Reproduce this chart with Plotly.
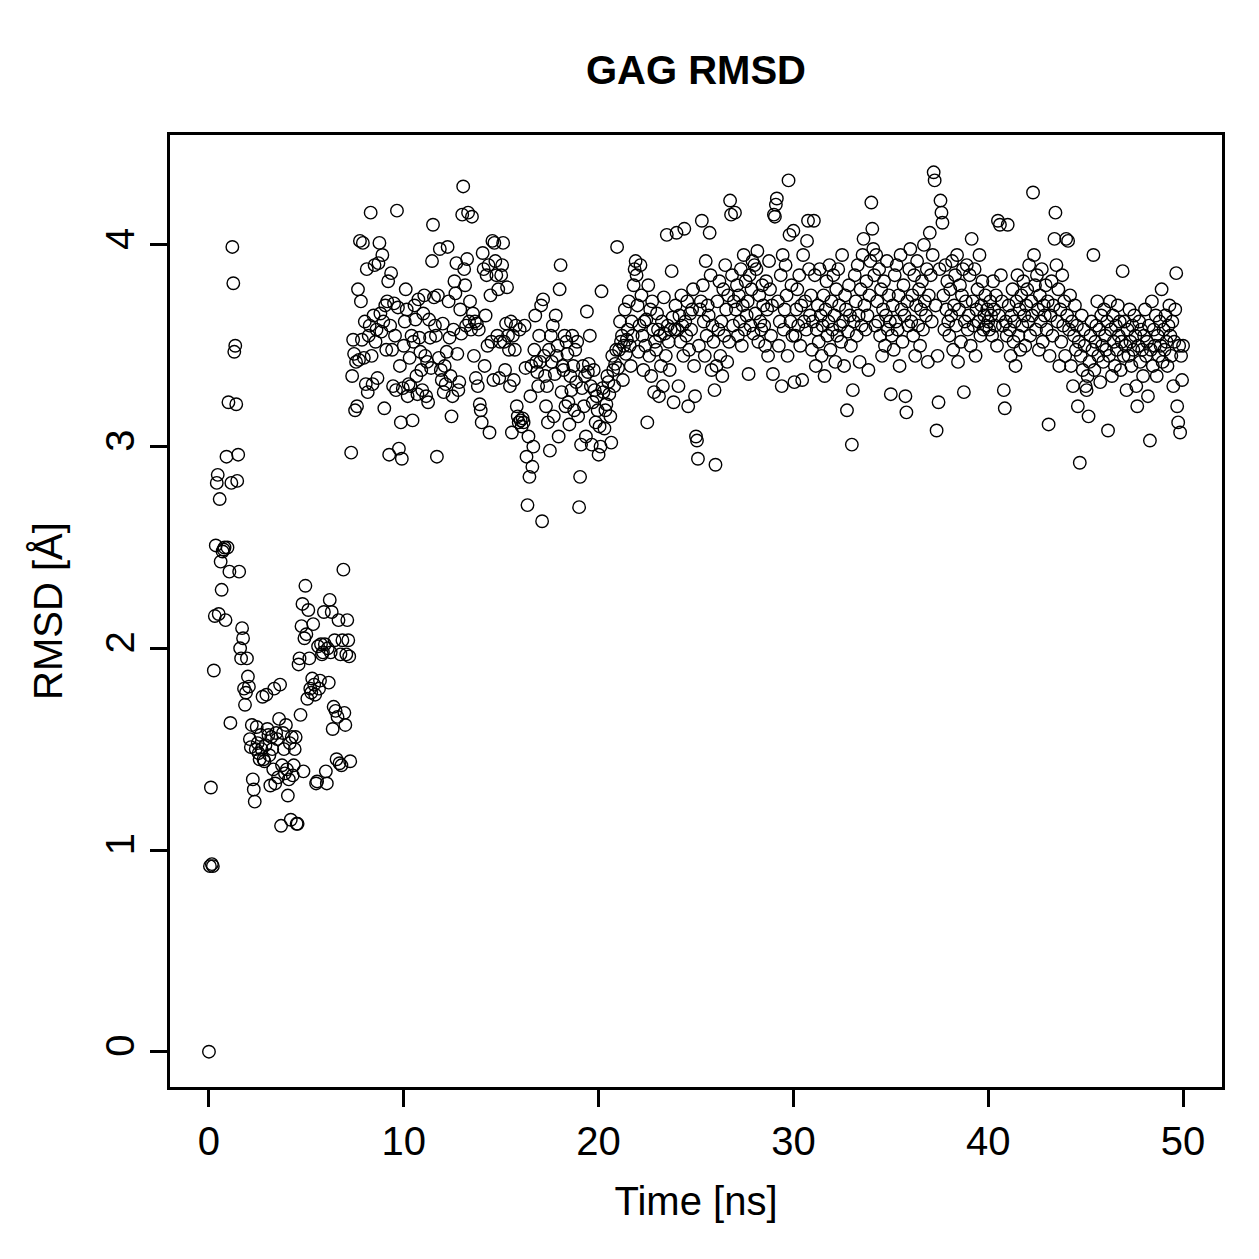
import numpy as np
import plotly.graph_objects as go

rmsd_0_10 = [
    0.00, 0.92, 1.31, 0.93, 0.92, 1.89, 2.16, 2.51, 2.82, 2.86, 2.17, 2.74, 2.43, 2.29, 2.48, 2.49, 2.50, 2.14, 2.95, 2.50,
    3.22, 2.38, 1.63, 2.82, 3.99, 3.81, 3.47, 3.50, 3.21, 2.83, 2.96, 2.38, 2.00, 1.95, 2.10, 2.05, 1.80, 1.72, 1.78, 1.95,
    1.86, 1.81, 1.55, 1.51, 1.62, 1.35, 1.30, 1.24, 1.50, 1.61, 1.53, 1.48, 1.45, 1.57, 1.50, 1.76, 1.45, 1.44, 1.52, 1.77,
    1.60, 1.57, 1.47, 1.32, 1.56, 1.50, 1.40, 1.80, 1.33, 1.58, 1.55, 1.36, 1.65, 1.82, 1.12, 1.42, 1.58, 1.50, 1.38, 1.62,
    1.40, 1.27, 1.35, 1.53, 1.15, 1.56, 1.37, 1.42, 1.50, 1.56, 1.13, 1.13, 1.92, 1.95, 1.67, 2.11, 2.22, 1.39, 2.05, 2.31,
    2.07, 1.75, 2.19, 1.95, 1.80, 1.78, 1.85, 2.12, 1.82, 1.77, 1.33, 1.34, 2.01, 1.80, 1.84, 2.02, 1.97, 1.98, 2.18, 2.02,
    1.39, 1.33, 2.00, 1.83, 2.24, 1.98, 2.18, 1.60, 1.71, 2.04, 1.69, 1.45, 1.66, 2.14, 1.43, 1.97, 1.42, 2.04, 2.39, 1.68,
    1.62, 1.97, 2.14, 2.04, 1.96, 1.44, 2.97, 3.35, 3.53, 3.46, 3.18, 3.42, 3.20, 3.78, 3.43, 4.02, 3.72, 3.53, 4.01, 3.44,
    3.62, 3.31, 3.88, 3.27, 3.55, 3.60, 4.16, 3.45, 3.31, 3.65, 3.90, 3.52, 3.58, 3.34, 3.91, 4.01, 3.66, 3.57, 3.95, 3.62,
    3.19, 3.70, 3.48, 3.72, 3.82, 2.96, 3.60, 3.86, 3.48, 3.30, 3.71, 3.55, 3.28, 4.17, 3.69, 2.99, 3.40, 3.12, 2.94, 3.29,
]
rmsd_10_20 = [
    3.50, 3.62, 3.78, 3.68, 3.25, 3.31, 3.44, 3.30, 3.55, 3.13, 3.52, 3.70, 3.63, 3.35, 3.26, 3.73, 3.54, 3.47, 3.38, 3.28,
    3.66, 3.75, 3.45, 3.25, 3.42, 3.22, 3.63, 3.54, 3.39, 3.92, 4.10, 3.74, 3.60, 3.55, 2.95, 3.75, 3.44, 3.98, 3.38, 3.33,
    3.61, 3.27, 3.40, 3.31, 3.47, 3.99, 3.72, 3.54, 3.35, 3.15, 3.25, 3.58, 3.82, 3.76, 3.91, 3.46, 3.28, 3.32, 3.68, 3.56,
    4.15, 4.29, 3.88, 3.80, 3.60, 3.93, 4.16, 3.62, 3.72, 3.58, 4.14, 3.66, 3.45, 3.62, 3.34, 3.61, 3.30, 3.58, 3.21, 3.18,
    3.12, 3.96, 3.88, 3.40, 3.65, 3.85, 3.50, 3.90, 3.07, 3.75, 3.52, 4.02, 3.33, 4.01, 3.92, 3.85, 3.55, 3.78, 3.34, 3.52,
    3.85, 3.90, 4.01, 3.52, 3.38, 3.61, 3.79, 3.55, 3.48, 3.30, 3.62, 3.07, 3.55, 3.33, 3.48, 3.60, 3.20, 3.15, 3.12, 3.58,
    3.13, 3.10, 3.14, 3.12, 3.60, 3.39, 2.95, 2.71, 3.05, 2.85, 3.25, 3.40, 2.90, 3.00, 3.48, 3.65, 3.42, 3.37, 3.30, 3.55,
    3.42, 3.70, 2.63, 3.73, 3.45, 3.35, 3.20, 3.30, 3.12, 3.48, 2.98, 3.55, 3.42, 3.60, 3.15, 3.36, 3.65, 3.45, 3.50, 3.05,
    3.78, 3.90, 3.27, 3.40, 3.38, 3.55, 3.20, 3.52, 3.46, 3.22, 3.11, 3.35, 3.28, 3.55, 3.40, 3.18, 3.48, 3.32, 3.52, 3.15,
    2.70, 2.85, 3.01, 3.29, 3.40, 3.20, 3.35, 3.05, 3.67, 3.37, 3.41, 3.55, 3.30, 3.01, 3.22, 3.38, 3.28, 3.12, 3.25, 3.18,
]
rmsd_20_30 = [
    2.96, 3.10, 3.00, 3.77, 3.29, 3.27, 3.09, 3.18, 3.21, 3.35, 3.32, 3.26, 3.15, 3.02, 3.45, 3.38, 3.30, 3.41, 3.48, 3.99,
    3.39, 3.48, 3.62, 3.52, 3.55, 3.33, 3.50, 3.68, 3.46, 3.53, 3.58, 3.72, 3.50, 3.40, 3.62, 3.55, 3.80, 3.88, 3.92, 3.85,
    3.70, 3.47, 3.60, 3.90, 3.75, 3.55, 3.38, 3.62, 3.50, 3.63, 3.12, 3.80, 3.45, 3.68, 3.35, 3.72, 3.58, 3.27, 3.52, 3.48,
    3.66, 3.58, 3.25, 3.55, 3.40, 3.62, 3.30, 3.74, 3.56, 3.45, 4.05, 3.60, 3.52, 3.38, 3.58, 3.87, 3.64, 3.22, 3.58, 3.70,
    4.06, 3.58, 3.30, 3.65, 3.52, 3.75, 3.60, 3.45, 4.08, 3.62, 3.55, 3.72, 3.20, 3.48, 3.66, 3.58, 3.68, 3.78, 3.40, 3.25,
    3.05, 3.03, 2.94, 3.50, 3.68, 3.72, 4.12, 3.80, 3.62, 3.45, 3.92, 3.55, 3.70, 3.65, 4.06, 3.85, 3.38, 3.60, 3.52, 3.28,
    2.91, 3.40, 3.72, 3.58, 3.82, 3.45, 3.62, 3.35, 3.78, 3.55, 3.90, 3.68, 3.42, 3.75, 3.52, 4.22, 4.15, 3.85, 3.60, 3.72,
    4.16, 3.68, 3.80, 3.55, 3.75, 3.62, 3.88, 3.50, 3.70, 3.95, 3.58, 3.82, 3.65, 3.72, 3.36, 3.85, 3.60, 3.78, 3.92, 3.56,
    3.90, 3.66, 3.88, 3.97, 3.52, 3.75, 3.62, 3.58, 3.80, 3.70, 3.60, 3.50, 3.82, 3.68, 3.45, 3.92, 3.78, 3.55, 3.70, 3.36,
    4.15, 4.14, 4.20, 4.23, 3.72, 3.50, 3.62, 3.85, 3.30, 3.95, 3.58, 3.68, 3.90, 3.75, 3.45, 4.32, 4.05, 3.62, 3.80, 3.55,
]
rmsd_30_40 = [
    4.07, 3.32, 3.55, 3.68, 3.78, 3.60, 3.85, 3.50, 3.70, 3.33, 3.95, 3.62, 3.72, 3.58, 4.02, 4.12, 3.88, 3.65, 3.75, 3.48,
    3.62, 4.12, 3.85, 3.40, 3.58, 3.70, 3.52, 3.88, 3.65, 3.45, 3.60, 3.75, 3.35, 3.68, 3.82, 3.55, 3.62, 3.90, 3.48, 3.72,
    3.58, 3.85, 3.65, 3.42, 3.78, 3.55, 3.88, 3.70, 3.60, 3.52, 3.95, 3.62, 3.40, 3.75, 3.68, 3.18, 3.57, 3.80, 3.65, 3.50,
    3.01, 3.28, 3.62, 3.85, 3.72, 3.55, 3.90, 3.65, 3.42, 3.78, 3.60, 3.95, 4.03, 3.70, 3.58, 3.82, 3.65, 3.38, 3.75, 3.92,
    4.21, 4.08, 3.98, 3.85, 3.60, 3.95, 3.72, 3.62, 3.88, 3.55, 3.78, 3.45, 3.68, 3.82, 3.50, 3.65, 3.92, 3.58, 3.75, 3.62,
    3.26, 3.55, 3.70, 3.48, 3.85, 3.62, 3.90, 3.58, 3.75, 3.40, 3.95, 3.68, 3.52, 3.80, 3.65, 3.25, 3.17, 3.72, 3.60, 3.88,
    3.98, 3.62, 3.75, 3.55, 3.85, 3.45, 3.70, 3.92, 3.60, 3.78, 3.50, 3.68, 3.82, 3.58, 4.00, 3.72, 3.65, 3.88, 3.42, 3.75,
    4.06, 3.85, 3.62, 3.95, 4.36, 4.32, 3.70, 3.08, 3.45, 3.22, 3.88, 4.22, 4.16, 4.11, 3.75, 3.58, 3.90, 3.68, 3.82, 3.62,
    3.55, 3.78, 3.65, 3.92, 3.48, 3.70, 3.85, 3.60, 3.95, 3.42, 3.68, 3.80, 3.52, 3.75, 3.88, 3.27, 3.62, 3.72, 3.90, 3.58,
    3.65, 3.85, 3.50, 4.03, 3.72, 3.60, 3.88, 3.45, 3.68, 3.78, 3.62, 3.95, 3.55, 3.70, 3.82, 3.58, 3.65, 3.75, 3.60, 3.68,
]
rmsd_40_50 = [
    3.62, 3.58, 3.72, 3.65, 3.55, 3.82, 3.68, 3.60, 3.75, 3.50, 4.12, 3.65, 4.10, 3.85, 3.72, 3.60, 3.28, 3.19, 3.62, 3.55,
    4.10, 3.70, 3.58, 3.45, 3.65, 3.78, 3.52, 3.62, 3.40, 3.72, 3.85, 3.55, 3.68, 3.48, 3.75, 3.60, 3.82, 3.65, 3.50, 3.70,
    3.78, 3.62, 3.90, 3.55, 3.72, 3.65, 4.26, 3.95, 3.80, 3.58, 3.85, 3.68, 3.48, 3.75, 3.62, 3.88, 3.52, 3.70, 3.65, 3.80,
    3.58, 3.72, 3.11, 3.45, 3.65, 3.82, 3.55, 3.70, 4.03, 4.16, 3.90, 3.62, 3.78, 3.40, 3.68, 3.52, 3.85, 3.60, 3.72, 3.45,
    4.03, 3.65, 4.02, 3.58, 3.75, 3.40, 3.62, 3.30, 3.55, 3.70, 3.48, 3.60, 3.20, 3.52, 2.92, 3.45, 3.65, 3.38, 3.58, 3.50,
    3.30, 3.28, 3.35, 3.15, 3.42, 3.55, 3.62, 3.48, 3.95, 3.38, 3.52, 3.60, 3.72, 3.45, 3.58, 3.32, 3.65, 3.50, 3.42, 3.68,
    3.55, 3.48, 3.62, 3.08, 3.45, 3.72, 3.58, 3.35, 3.65, 3.52, 3.40, 3.60, 3.48, 3.70, 3.55, 3.62, 3.38, 3.52, 3.87, 3.45,
    3.62, 3.50, 3.28, 3.58, 3.45, 3.68, 3.52, 3.40, 3.60, 3.48, 3.65, 3.55, 3.30, 3.20, 3.50, 3.62, 3.42, 3.58, 3.48, 3.35,
    3.55, 3.68, 3.45, 3.52, 3.25, 3.60, 3.03, 3.48, 3.72, 3.40, 3.58, 3.50, 3.65, 3.35, 3.55, 3.45, 3.62, 3.50, 3.78, 3.42,
    3.58, 3.48, 3.65, 3.52, 3.40, 3.60, 3.70, 3.55, 3.45, 3.62, 3.30, 3.52, 3.68, 3.86, 3.20, 3.12, 3.50, 3.07, 3.45, 3.33,
    3.50,
]

time_step_ns = 0.05
rmsd = rmsd_0_10 + rmsd_10_20 + rmsd_20_30 + rmsd_30_40 + rmsd_40_50
time_ns = [round(i * time_step_ns, 2) for i in range(len(rmsd))]

x_ticks = [0, 10, 20, 30, 40, 50]
y_ticks = [0, 1, 2, 3, 4]

FONT = "Liberation Sans, Arial, Helvetica, sans-serif"

fig = go.Figure()
fig.add_trace(go.Scatter(
    x=time_ns, y=rmsd, mode="markers",
    marker=dict(symbol="circle-open", size=12.5, color="black",
                line=dict(color="black", width=1.4)),
    showlegend=False, hoverinfo="x+y",
))

axis_common = dict(
    showline=True, linecolor="black", linewidth=2.5, mirror=True,
    ticks="outside", ticklen=17, tickwidth=2.5, tickcolor="black",
    showgrid=False, zeroline=False,
    tickfont=dict(family=FONT, size=40, color="black"),
)

fig.update_layout(
    width=1259, height=1259,
    margin=dict(l=170, r=37, t=135, b=172),
    paper_bgcolor="white", plot_bgcolor="white",
    font=dict(family=FONT, color="black"),
    title=dict(text="<b>GAG RMSD</b>", x=0.5, xref="paper", xanchor="center",
               y=1 - 70 / 1259, yref="container", yanchor="middle",
               font=dict(family=FONT, size=40, color="black")),
    xaxis=dict(range=[-2, 52], tickvals=x_ticks, ticktext=[str(v) for v in x_ticks],
               title=dict(text="Time [ns]", font=dict(family=FONT, size=40), standoff=26),
               **axis_common),
    yaxis=dict(range=[-0.175, 4.545], tickvals=y_ticks, ticktext=[str(v) for v in y_ticks],
               tickangle=-90,
               title=dict(text="RMSD [Å]", font=dict(family=FONT, size=40), standoff=24),
               **axis_common),
)

fig.write_html("out.html")
